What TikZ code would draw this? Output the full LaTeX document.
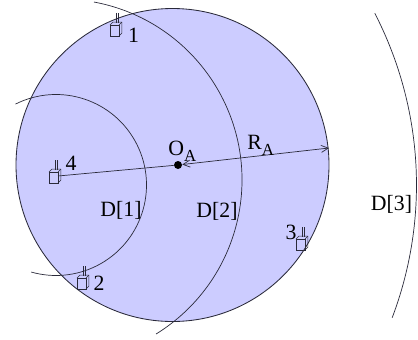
\documentclass[tikz,border=0pt]{standalone}
\usepackage{fontspec}
\setmainfont{Liberation Serif}
\usetikzlibrary{arrows.meta,calc,positioning}
\definecolor{zonefill}{HTML}{CCCCFF}
\definecolor{inkline}{HTML}{2A2A3A}
\newcommand{\lowsub}[1]{\raisebox{-4.5pt}{\fontsize{12}{14}\selectfont #1}}
\tikzset{
  rangearc/.style={draw=inkline, line width=0.5pt},
  lbl/.style={font=\fontsize{15.5}{18}\selectfont, inner sep=0pt, text=black},
  device/.pic={
    \draw[draw=inkline, line width=0.4pt] (0,0) rectangle (0.225,0.275);
    \draw[draw=inkline, line width=0.4pt] (0,0.275) -- (0.07,0.345) -- (0.295,0.345) -- (0.295,0.07) -- (0.225,0);
    \draw[draw=inkline, line width=0.4pt] (0.225,0.275) -- (0.295,0.345);
    \draw[draw=inkline, line width=0.4pt] (0.16,0.33) -- (0.16,0.58);
    \draw[draw=inkline, line width=0.4pt] (0.195,0.33) -- (0.195,0.58);
  }
}

\begin{document}
\begin{tikzpicture}[>={Straight Barb[length=5pt,width=5pt]}]
  \useasboundingbox (0,0) rectangle (10.45,8.475);

  % Coverage disc
  \draw[fill=zonefill, draw=inkline, line width=0.6pt] (4.3125,4.35) circle (3.9125);

  % Range arcs
  \coordinate (cOne) at (1.4,3.85);
  \coordinate (cTwo) at (1.525,3.975);
  \coordinate (cThree) at (1.05,3.85);
  \draw[rangearc] (cOne) ++(116.6:2.2625) arc[start angle=116.6, end angle=-105.9, radius=2.2625];
  \draw[rangearc] (cTwo) ++(79.5:4.525) arc[start angle=79.5, end angle=-58.3, radius=4.525];
  \draw[rangearc] (cThree) ++(27.3:9.3625) arc[start angle=27.3, end angle=-20.75, radius=9.3625];

  % Devices
  \pic at (2.75,7.575) {device};
  \pic at (1.925,1.25) {device};
  \pic at (7.4,2.225) {device};
  \pic at (1.225,3.9) {device};

  % Radius
  \node[circle, fill=black, inner sep=0pt, minimum size=0.2cm] (centre) at (4.45,4.35) {};
  \coordinate (devFour) at (1.45,4.075);
  \coordinate (rimA) at (8.225,4.775);
  \draw[draw=inkline, line width=0.5pt] (devFour) -- (centre);
  \draw[<->, draw=inkline, line width=0.5pt] (centre) -- (rimA);

  % Labels
  \node[lbl] (numOne) at (3.3375,7.6) {1};
  \node[lbl] (numTwo) at (2.475,1.4) {2};
  \node[lbl] (numThree) at (7.275,2.675) {3};
  \node[lbl] (numFour) at (1.775,4.3875) {4};
  \node[lbl, anchor=base west] (originLbl) at (4.2,4.6) {O\lowsub{A}};
  \node[lbl, anchor=base west] (radiusLbl) at (6.175,4.75) {R\lowsub{A}};
  \node[lbl] (dOneLbl) at (3.025,3.225) {D[1]};
  \node[lbl] (dTwoLbl) at (5.425,3.2) {D[2]};
  \node[lbl] (dThreeLbl) at (9.7875,3.3625) {D[3]};
\end{tikzpicture}
\end{document}
